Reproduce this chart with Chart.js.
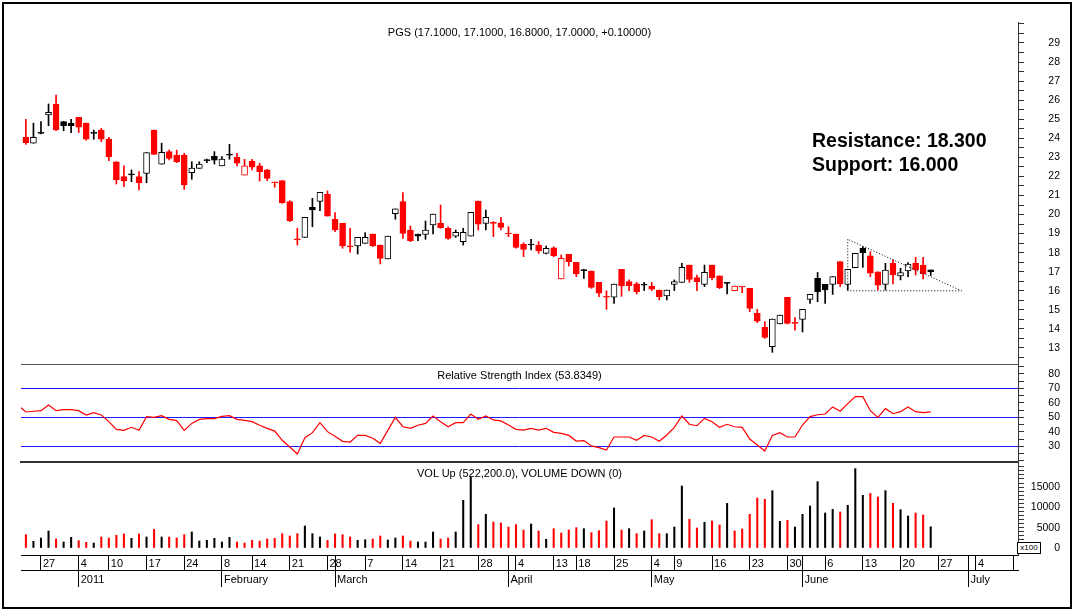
<!DOCTYPE html>
<html>
<head>
<meta charset="utf-8">
<title>PGS</title>
<script src="https://cdn.jsdelivr.net/npm/chart.js@4.4.1/dist/chart.umd.min.js"></script>
<style>
  body { margin: 0; background: #fff; }
  #wrap { position: relative; width: 1075px; height: 612px; overflow: hidden; font-family: "Liberation Sans", Arial, sans-serif; color: #000; }
  #wrap canvas { position: absolute; left: 0; }
  .frame { position: absolute; left: 2px; top: 2px; width: 1066px; height: 603px; border: 2px solid #000; }
  .ttl { position: absolute; left: 21px; width: 997px; text-align: center; font-size: 11px; line-height: 13px; white-space: nowrap; }
  .note { position: absolute; left: 812px; top: 128px; font-weight: bold; font-size: 19.5px; line-height: 24px; white-space: nowrap; }
  .mult { position: absolute; left: 1017px; top: 542px; width: 22px; height: 10px; border: 1px solid #000; font-size: 8px; line-height: 10px; text-align: center; background: #fff; }
</style>
</head>
<body>
<div id="wrap">
  <div class="frame"></div>
  <canvas id="priceChart" width="1075" height="365" style="top:0"></canvas>
  <canvas id="rsiChart" width="1075" height="98" style="top:365px"></canvas>
  <canvas id="volChart" width="1075" height="127" style="top:463px"></canvas>
  <div class="ttl" style="top:26px">PGS (17.1000, 17.1000, 16.8000, 17.0000, +0.10000)</div>
  <div class="ttl" style="top:369px">Relative Strength Index (53.8349)</div>
  <div class="ttl" style="top:467px">VOL Up (522,200.0), VOLUME DOWN (0)</div>
  <div class="note">Resistance: 18.300<br>Support: 16.000</div>
  <div class="mult">x100</div>
</div>
<script>
// daily candles, 27 Dec 2010 .. 24 Jun 2011 (index 0 = first bar)
const openPx = [24.05,23.74,24.26,25.22,25.8,24.87,24.8,25.1,24.8,24.26,
  24.43,23.96,22.77,21.99,22.08,21.99,22.16,24.43,22.64,23.3,
  23.12,23.12,22.2,22.42,22.83,23.05,22.55,23.12,23.0,22.07,
  22.81,22.55,22.34,21.67,21.78,20.68,18.67,18.8,20.38,20.69,
  21.06,19.75,19.54,18.3,18.35,18.49,18.98,18.4,17.67,20.05,
  20.68,19.19,18.98,18.96,19.45,19.54,19.28,18.87,18.58,18.87,
  20.71,19.54,19.54,19.57,18.98,18.98,18.44,18.4,18.4,17.96,
  18.26,16.62,17.91,17.49,17.06,17.04,16.44,15.66,15.66,17.13,
  16.48,16.36,16.3,16.25,16.04,15.73,16.34,16.44,17.35,16.69,
  16.34,17.35,16.78,16.39,16.01,16.2,16.13,14.82,14.08,13.07,
  14.26,15.66,14.29,14.5,15.55,16.65,16.34,16.34,17.53,16.34,
  17.21,18.23,17.83,17.0,16.34,17.44,16.78,17.04,17.44,17.35,
  17.1];
const highPx = [25.0,24.79,24.87,25.8,26.27,24.88,24.99,25.1,24.8,24.43,
  24.52,24.05,22.77,22.55,22.34,22.25,23.25,24.43,23.74,23.38,
  23.38,23.21,22.77,22.77,22.91,23.3,23.04,23.68,23.21,22.9,
  22.9,22.69,22.37,21.67,21.78,20.73,19.28,19.85,20.85,21.17,
  21.24,20.1,19.54,19.28,18.8,19.05,18.98,18.4,18.87,20.3,
  21.15,19.4,18.98,19.66,20.03,20.5,19.36,19.19,19.28,20.12,
  20.71,20.24,19.63,19.85,19.36,18.98,18.52,18.7,18.58,18.35,
  18.31,17.88,17.91,17.49,17.13,17.04,16.44,16.0,16.35,17.13,
  16.57,16.44,16.44,16.44,16.04,16.04,16.57,17.44,17.35,16.83,
  17.35,17.35,16.78,16.43,16.25,16.2,16.13,15.03,14.38,14.52,
  14.73,15.66,14.59,15.03,15.81,16.96,16.34,16.74,17.53,17.13,
  17.97,18.31,18.05,17.0,17.44,17.62,17.18,17.48,17.76,17.76,
  17.1];
const lowPx = [23.68,23.74,24.23,24.66,24.4,24.4,24.3,24.3,23.9,23.95,
  23.82,22.83,21.6,21.46,21.72,21.29,21.67,23.16,22.64,22.86,
  22.72,21.32,21.85,22.42,22.72,22.65,22.55,22.9,22.55,22.07,
  22.34,21.76,21.78,21.43,20.59,19.63,18.4,18.8,19.36,20.2,
  19.92,19.1,18.23,18.02,17.93,18.49,18.32,17.41,17.67,19.75,
  18.75,18.58,18.63,18.7,18.98,19.28,18.7,18.8,18.4,18.87,
  19.19,19.19,18.84,19.19,18.84,18.23,17.79,18.14,17.96,17.93,
  17.79,16.62,17.3,16.74,16.65,16.13,15.69,15.03,15.34,15.71,
  16.01,15.83,16.01,16.01,15.52,15.52,16.01,16.44,16.44,16.01,
  16.22,16.57,16.11,15.83,16.01,15.9,14.9,14.33,13.5,12.77,
  14.26,14.26,13.94,13.84,15.34,15.43,15.34,15.81,16.22,16.04,
  17.21,17.23,16.74,16.04,16.04,16.36,16.57,16.74,16.83,16.62,
  16.8];
const closePx = [23.77,24.05,24.26,25.36,24.44,24.66,24.66,24.58,23.96,24.26,
  23.96,23.04,21.81,21.76,22.08,21.67,23.25,23.16,23.26,22.95,
  22.77,21.55,22.44,22.65,22.83,22.85,22.91,23.12,22.69,22.55,
  22.48,22.25,21.9,21.67,20.62,19.68,18.67,19.85,20.24,21.17,
  19.92,19.19,18.35,18.3,18.8,18.8,18.35,17.7,18.87,20.3,
  19.01,18.63,18.87,19.19,20.03,19.31,18.75,19.07,19.07,20.12,
  19.49,19.85,19.54,19.33,18.98,18.28,18.17,18.4,18.09,18.23,
  17.83,17.7,17.53,16.88,17.06,16.18,15.87,15.66,16.35,16.26,
  16.27,15.95,16.3,16.08,15.69,16.04,16.48,17.23,16.6,16.48,
  16.97,16.69,16.16,16.39,16.25,16.2,15.08,14.41,13.56,14.52,
  14.73,14.29,14.29,15.03,15.81,15.95,16.04,16.74,16.36,17.13,
  17.97,18.0,16.92,16.3,17.09,16.83,16.95,17.4,17.09,16.9,
  17.0];
// r = closed below previous close, k = at/above
const candleColor = ('rkkkrkkrrk' + 'rrrrkrkrkr' + 'rrkkkkkkrr' + 'rrrrrrrkkk' + 'rrrrkkrrkk' +
  'rrkkkrrkkk' + 'rkrrrrrkrk' + 'rrrrkrrrkr' + 'rrkrrkkkrr' + 'krrkrrrrrk' +
  'krrkkkkkrk' + 'kkrrkrkkrr' + 'k').split('');
const volColor = ('rkkkrkkrrk' + 'rrrrkrkrkr' + 'rrkkkkkkrr' + 'rrrrrrrkkk' + 'rrrrkkrrkk' +
  'rrkkkrrkkk' + 'rkrrrrrkrk' + 'rrrrkrrrkr' + 'krkrrkkkrr' + 'krrkrrrrrk' +
  'krkkkkkkrk' + 'kkrrkrkkrr' + 'k').split('');

// volume in hundreds of shares
const volume = [3280,1640,2460,4190,2220,1480,2630,1810,1400,1230,
  2710,2460,3120,3450,2380,3450,2710,4600,2710,2710,
  2460,3280,3940,1720,1890,2380,1480,2630,1480,1230,
  1890,1720,2220,2380,3530,2960,3530,5420,3530,2710,
  1890,3450,3280,2710,1890,2050,2220,2960,1970,2460,
  2960,1720,1480,1480,3940,2220,2460,3940,11740,17490,
  5750,8290,6400,6160,5170,5750,4430,5910,4190,2140,
  4760,3700,4430,5010,4760,3780,4270,6650,9850,4430,
  4760,3530,4190,6980,3530,3530,5170,15270,7060,4930,
  6320,6650,5670,11000,4190,4680,8290,12320,11990,14120,
  6570,6810,5170,8290,10350,16340,8620,9520,8870,10510,
  19540,12970,13460,12560,14120,11000,9440,7880,8620,8130,
  5222];

// RSI, first value belongs to the bar just left of the visible range
const rsi = [58.1,53.7,54.2,54.6,58.5,54.6,55.3,55.3,54.6,51.6,
  53.2,51.6,47.0,41.7,41.0,43.1,41.0,50.5,50.0,51.2,
  48.6,47.7,41.0,45.8,48.6,49.1,49.1,50.7,51.2,48.6,
  47.9,47.0,44.5,42.4,40.5,34.1,29.5,24.6,35.9,39.4,
  46.3,40.1,36.9,33.4,32.9,37.5,37.5,35.5,32.0,41.0,
  50.0,43.5,42.4,44.5,45.8,50.9,47.0,43.5,46.3,46.3,
  52.3,48.6,50.9,48.2,47.5,44.7,41.7,41.2,42.4,41.2,
  42.4,39.6,38.9,37.5,33.6,33.9,30.2,29.0,27.4,36.4,
  36.4,36.4,34.1,37.5,36.4,33.4,37.8,43.1,50.9,45.2,
  44.2,49.3,47.0,43.1,45.2,43.5,43.1,35.0,30.9,26.7,
  37.5,39.4,36.4,36.4,44.7,50.5,51.8,52.3,57.2,54.2,
  59.5,64.3,64.3,54.6,50.0,56.0,52.5,53.9,57.2,53.9,
  53.2,53.8];
const rsiLevels = [30, 50, 70];

// hand-drawn triangle (bar index, price)
const triangleX = [109, 109, 124.1, 109];
const triangleY = [18.7, 16.0, 16.0, 18.7];

// axis ticks
const priceLabels = [13,14,15,16,17,18,19,20,21,22,23,24,25,26,27,28,29];
const rsiLabels = [30,40,50,60,70,80];
const volLabels = [0,5000,10000,15000];
const volTicks = [-1000,0,1000,2000,3000,4000,5000,6000,7000,8000,9000,10000,
  11000,12000,13000,14000,15000,16000,17000,18000,19000,20000];

// date axis: first trading day of each week, and of each month
const weekIdx = [2,7,11,16,21,26,30,35,40,45,50,55,60,65,70,73,78,83,86,91,96,101,106,111,116,121,126,131];
const weekLabel = ['27','4','10','17','24','8','14','21','28','7','14','21','28','4','13','18','25','4','9','16','23','30','6','13','20','27','4',''];
const monthIdx = [7,26,41,64,83,103,125];
const monthLabel = ['2011','February','March','April','May','June','July'];

const RED = '#ff0000';
const BLACK = '#000000';
const X_MIN = -0.65;
const X_MAX = 131.58;

Chart.defaults.font.family = '"Liberation Sans", Arial, sans-serif';
Chart.defaults.color = '#000';

const col = c => (c === 'r' ? RED : BLACK);

// hidden x axis that only draws the panel's bottom border
const panelX = (borderColor, borderWidth) => ({
    type: 'linear', min: X_MIN, max: X_MAX, offset: false,
    ticks: { display: false },
    grid: { display: false, drawTicks: false, offset: false },
    border: { display: true, color: borderColor, width: borderWidth },
    afterFit: s => { s.height = 0; s.paddingLeft = 0; s.paddingRight = 0; }
});

const rightAxis = (extra) => Object.assign({
    position: 'right',
    afterFit: s => { s.width = 42; s.paddingTop = 0; s.paddingBottom = 0; },
    grid: { drawOnChartArea: false, drawTicks: true, tickLength: 6, color: '#333', tickColor: '#333' },
    border: { display: true, color: '#333', width: 1 }
}, extra);

const baseOpts = {
    responsive: false,
    animation: false,
    events: [],
    plugins: { legend: { display: false }, tooltip: { enabled: false }, title: { display: false } }
};

document.addEventListener('DOMContentLoaded', () => {
    // 1. price panel
    const wicks = openPx.map((o, j) => ({ x: j, y: [lowPx[j], highPx[j]] }));
    const bodies = openPx.map((o, j) => ({ x: j, y: [Math.min(o, closePx[j]), Math.max(o, closePx[j])] }));
    const cCol = candleColor.map(col);
    const fill = cCol.map((c, j) => (closePx[j] > openPx[j] ? '#ffffff' : c));

    new Chart(document.getElementById('priceChart').getContext('2d'), {
        type: 'bar',
        data: {
            datasets: [
                { type: 'line', data: triangleX.map((x, k) => ({ x: x, y: triangleY[k] })), borderColor: '#000', borderWidth: 1, borderDash: [1, 2], pointRadius: 0, tension: 0, order: -1 },
                { data: bodies, backgroundColor: fill, borderColor: cCol, borderWidth: 1, borderSkipped: false, barThickness: 6, minBarLength: 1, grouped: false, order: 0 },
                { data: wicks, backgroundColor: cCol, barThickness: 1, grouped: false, order: 1 }
            ]
        },
        options: Object.assign({}, baseOpts, {
            layout: { padding: { left: 21, right: 15, top: 22, bottom: 1 } },
            scales: {
                x: panelX('#555', 1),
                y: rightAxis({
                    type: 'linear', min: 12.16, max: 30.1,
                    ticks: { stepSize: 0.5, includeBounds: false, autoSkip: false, crossAlign: 'far', padding: 24, font: { size: 10.5 },
                        callback: v => (priceLabels.includes(v) ? String(v) : '') }
                })
            }
        })
    });

    // 2. RSI panel
    new Chart(document.getElementById('rsiChart').getContext('2d'), {
        type: 'line',
        data: {
            datasets: [{ data: rsi.map((v, k) => ({ x: k - 1, y: v })), borderColor: RED, borderWidth: 1.2, pointRadius: 0, tension: 0 }]
        },
        options: Object.assign({}, baseOpts, {
            layout: { padding: { left: 21, right: 15, top: 0, bottom: 1 } },
            scales: {
                x: panelX('#333', 2),
                y: rightAxis({
                    type: 'linear', min: 19.1, max: 86.2,
                    grid: { drawOnChartArea: true, drawTicks: true, tickLength: 6, tickColor: '#333',
                        color: c => (c.tick && rsiLevels.includes(c.tick.value) ? '#1a1aff' : 'rgba(0,0,0,0)') },
                    ticks: { stepSize: 5, includeBounds: false, autoSkip: false, crossAlign: 'far', padding: 24, font: { size: 10.5 },
                        callback: v => (rsiLabels.includes(v) ? String(v) : '') }
                })
            }
        })
    });

    // 3. volume panel with the two-row date axis
    const dayTicks = Array.from(new Set(weekIdx.concat(monthIdx))).sort((a, b) => a - b);
    const dayText = dayTicks.map(v => (weekIdx.includes(v) ? weekLabel[weekIdx.indexOf(v)] : ''));

    new Chart(document.getElementById('volChart').getContext('2d'), {
        type: 'bar',
        data: {
            datasets: [{ data: volume.map((v, j) => ({ x: j, y: v })), backgroundColor: volColor.map(col), barThickness: 1.4 }]
        },
        options: Object.assign({}, baseOpts, {
            layout: { padding: { left: 21, right: 15, top: 0, bottom: 3 } },
            scales: {
                x: {
                    type: 'linear', min: X_MIN, max: X_MAX, offset: false, position: 'bottom', weight: 0,
                    afterBuildTicks: s => { s.ticks = dayTicks.map(v => ({ value: v })); },
                    afterFit: s => { s.height = 15; s.paddingLeft = 0; s.paddingRight = 0; },
                    ticks: { autoSkip: false, maxRotation: 0, align: 'start', labelOffset: 2, padding: -13, font: { size: 11 },
                        callback: (v, k) => dayText[k] },
                    grid: { drawOnChartArea: false, drawTicks: true, tickLength: 15, color: '#000', offset: false },
                    border: { display: true, color: '#000', width: 1 }
                },
                x2: {
                    type: 'linear', min: X_MIN, max: X_MAX, offset: false, position: 'bottom', weight: 1,
                    afterBuildTicks: s => { s.ticks = monthIdx.map(v => ({ value: v })); },
                    afterFit: s => { s.height = 17; s.paddingLeft = 0; s.paddingRight = 0; },
                    ticks: { autoSkip: false, maxRotation: 0, align: 'start', labelOffset: 2, padding: -14, font: { size: 11 },
                        callback: (v, k) => monthLabel[k] },
                    grid: { drawOnChartArea: false, drawTicks: true, tickLength: 17, color: '#000', offset: false },
                    border: { display: true, color: '#000', width: 1 }
                },
                y: rightAxis({
                    type: 'linear', min: -1724, max: 20936,
                    afterBuildTicks: s => { s.ticks = volTicks.map(v => ({ value: v })); },
                    ticks: { autoSkip: false, crossAlign: 'far', padding: 7, font: { size: 10.5 },
                        callback: v => (volLabels.includes(v) ? String(v) : '') }
                })
            }
        })
    });
});
</script>
</body>
</html>
